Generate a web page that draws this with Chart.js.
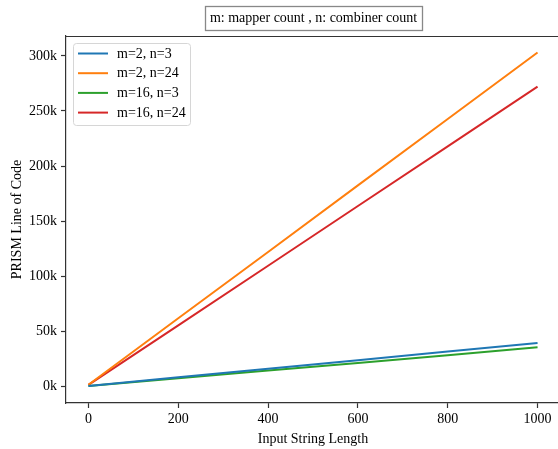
<!DOCTYPE html>
<html>
<head>
<meta charset="utf-8">
<script src="https://cdn.jsdelivr.net/npm/chart.js@4"></script>
<style>
html,body{margin:0;padding:0;background:#fff;overflow:hidden;}
#wrap{position:relative;width:561px;height:449px;}
</style>
</head>
<body>
<div id="wrap"><canvas id="c"></canvas></div>
<script>
const inputLengths = [0, 200, 400, 600, 800, 1000];
const seriesLabels = ['m=2, n=3', 'm=2, n=24', 'm=16, n=3', 'm=16, n=24'];
const m2n3 = [400, 8200, 16000, 23800, 31600, 39400];
const m2n24 = [1500, 61800, 122000, 182400, 242700, 303000];
const m16n3 = [300, 7300, 14300, 21300, 28300, 35400];
const m16n24 = [1300, 55400, 109500, 163700, 217800, 272000];
const xTicks = [0, 200, 400, 600, 800, 1000];
const yTicks = [0, 50000, 100000, 150000, 200000, 250000, 300000];
const titleText = 'm: mapper count , n: combiner count';
const xTitle = 'Input String Length';
const yTitle = 'PRISM Line of Code';

const colors = ['#1f77b4', '#ff7f0e', '#2ca02c', '#d62728'];
const allSeries = [m2n3, m2n24, m16n3, m16n24];
const FONT = '"Liberation Serif", "Times New Roman", serif';

const datasets = allSeries.map((s, i) => ({
  label: seriesLabels[i],
  data: s.map((v, j) => ({x: inputLengths[j], y: v})),
  borderColor: colors[i],
  backgroundColor: colors[i],
  borderWidth: 2,
  pointRadius: 0,
  tension: 0,
  fill: false
}));

const extras = {
  id: 'extras',
  afterDraw(chart) {
    const ctx = chart.ctx;
    const a = chart.chartArea;
    ctx.save();
    // top and right spines
    ctx.strokeStyle = '#333';
    ctx.lineWidth = 1.2;
    ctx.beginPath();
    ctx.moveTo(a.left, a.top + 0.5);
    ctx.lineTo(a.right, a.top + 0.5);
    ctx.lineTo(a.right, a.bottom);
    ctx.stroke();
    // title box
    ctx.font = '14px ' + FONT;
    ctx.textBaseline = 'middle';
    ctx.textAlign = 'center';
    ctx.fillStyle = '#000';
    ctx.fillText(titleText, 313.5, 18);
    ctx.strokeStyle = '#888';
    ctx.lineWidth = 1.3;
    ctx.strokeRect(205.5, 6.5, 217, 24);
    // legend
    const lx = 73.5, ly = 43.5, lw = 117, lh = 82, r = 3;
    ctx.beginPath();
    ctx.moveTo(lx + r, ly);
    ctx.lineTo(lx + lw - r, ly);
    ctx.quadraticCurveTo(lx + lw, ly, lx + lw, ly + r);
    ctx.lineTo(lx + lw, ly + lh - r);
    ctx.quadraticCurveTo(lx + lw, ly + lh, lx + lw - r, ly + lh);
    ctx.lineTo(lx + r, ly + lh);
    ctx.quadraticCurveTo(lx, ly + lh, lx, ly + lh - r);
    ctx.lineTo(lx, ly + r);
    ctx.quadraticCurveTo(lx, ly, lx + r, ly);
    ctx.closePath();
    ctx.fillStyle = 'rgba(255,255,255,0.8)';
    ctx.fill();
    ctx.strokeStyle = '#d6d6d6';
    ctx.lineWidth = 1;
    ctx.stroke();
    ctx.textAlign = 'left';
    chart.data.datasets.forEach((ds, i) => {
      const y = 53.5 + i * 19.7;
      ctx.strokeStyle = ds.borderColor;
      ctx.lineWidth = 2;
      ctx.beginPath();
      ctx.moveTo(78, y);
      ctx.lineTo(108, y);
      ctx.stroke();
      ctx.fillStyle = '#000';
      ctx.fillText(ds.label, 117, y + 0.5);
    });
    ctx.restore();
  }
};

new Chart(document.getElementById('c'), {
  type: 'line',
  data: { datasets },
  options: {
    responsive: true,
    maintainAspectRatio: false,
    animation: false,
    layout: { padding: { top: 36, left: 0, right: 1, bottom: 0 } },
    plugins: { legend: { display: false }, tooltip: { enabled: false } },
    scales: {
      x: {
        type: 'linear',
        min: -50,
        max: 1050,
        afterBuildTicks: s => { s.ticks = xTicks.map(v => ({value: v})); },
        afterFit: s => { s.height = 46; },
        grid: { drawOnChartArea: false, tickLength: 5, color: '#333', tickWidth: 1.2 },
        border: { color: '#333', width: 1.2 },
        ticks: { color: '#000', font: { family: FONT, size: 14 }, padding: 3, maxRotation: 0, autoSkip: false,
          callback: v => String(v) },
        title: { display: true, text: xTitle, color: '#000', font: { family: FONT, size: 14 }, padding: { top: 0, bottom: 1 } }
      },
      y: {
        type: 'linear',
        min: -15100,
        max: 318000,
        afterBuildTicks: s => { s.ticks = yTicks.map(v => ({value: v})); },
        afterFit: s => { s.width = 66; },
        grid: { drawOnChartArea: false, tickLength: 5, color: '#333', tickWidth: 1.2 },
        border: { color: '#333', width: 1.2 },
        ticks: { color: '#000', font: { family: FONT, size: 14 }, padding: 4, autoSkip: false,
          callback: v => (v / 1000) + 'k' },
        title: { display: true, text: yTitle, color: '#000', font: { family: FONT, size: 14 }, padding: { top: 9, bottom: 4 } }
      }
    }
  },
  plugins: [extras]
});
</script>
</body>
</html>
